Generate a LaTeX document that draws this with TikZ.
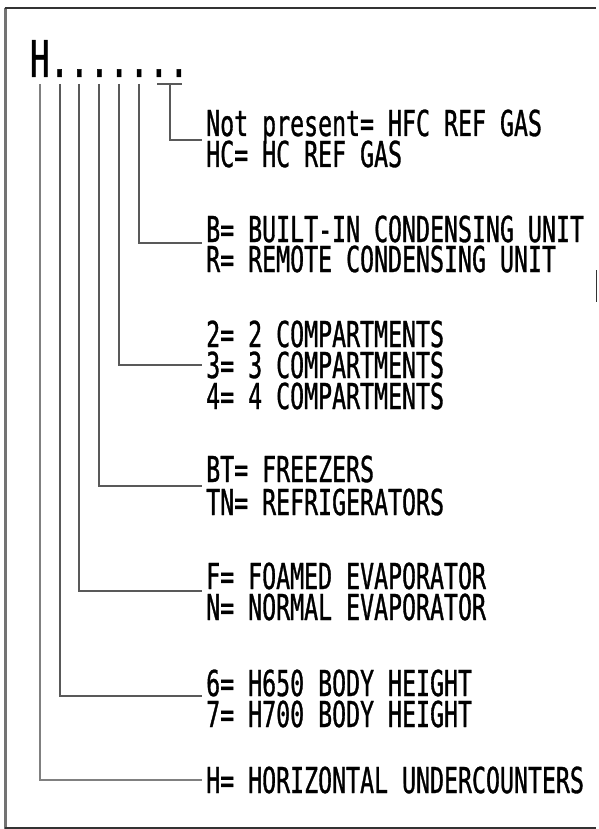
\documentclass[tikz,border=0pt]{standalone}
\usepackage{fontspec}
\newfontfamily\cadfont[FakeStretch=0.651,FakeBold=0.9]{DejaVu Sans Mono}
\begin{document}
\begin{tikzpicture}[x=1pt,y=-1pt,
  conn/.style={draw=black!65,line width=1.3pt},
  framel/.style={draw=black!80,line width=1.4pt},
  lbl/.style={anchor=base west,inner sep=0pt,font=\cadfont\fontsize{35.7}{31}\selectfont},
  code/.style={anchor=base west,inner sep=0pt,font=\cadfont\fontsize{50.7}{50}\selectfont}]
\useasboundingbox (0,0) rectangle (598,829);
% frame
\draw[framel,draw=black!55,line width=2.2pt] (5.5,8) -- (5.5,829);
\draw[framel] (4.5,8) -- (596,8);
\draw[framel] (4.5,828) -- (596,828);
\draw[framel,line width=1.6pt] (596.5,270) -- (596.5,302);
% code
\node[code] (code) at (29.6,77) {H.......};
\coordinate (tH) at (40,84);
\coordinate (t1) at (60,84);
\coordinate (t2) at (79,84);
\coordinate (t3) at (99,84);
\coordinate (t4) at (119,84);
\coordinate (t5) at (139,84);
\coordinate (t6) at (170,84);
\coordinate (b6l) at (157,84);
\coordinate (b6r) at (182,84);
% labels
\node[lbl] (l1a) at (206,136) {Not present= HFC REF GAS};
\node[lbl] (l1b) at (206,167) {HC= HC REF GAS};
\node[lbl] (l2a) at (206,242) {B= BUILT-IN CONDENSING UNIT};
\node[lbl] (l2b) at (206,272) {R= REMOTE CONDENSING UNIT};
\node[lbl] (l3a) at (206,347) {2= 2 COMPARTMENTS};
\node[lbl] (l3b) at (206,378) {3= 3 COMPARTMENTS};
\node[lbl] (l3c) at (206,409) {4= 4 COMPARTMENTS};
\node[lbl] (l4a) at (206,482) {BT= FREEZERS};
\node[lbl] (l4b) at (206,515) {TN= REFRIGERATORS};
\node[lbl] (l5a) at (206,589) {F= FOAMED EVAPORATOR};
\node[lbl] (l5b) at (206,620) {N= NORMAL EVAPORATOR};
\node[lbl] (l6a) at (206,696) {6= H650 BODY HEIGHT};
\node[lbl] (l6b) at (206,727) {7= H700 BODY HEIGHT};
\node[lbl] (l7a) at (206,793) {H= HORIZONTAL UNDERCOUNTERS};
% attachment points
\coordinate (g1) at (202,140);
\coordinate (g2) at (202,243);
\coordinate (g3) at (202,365);
\coordinate (g4) at (202,486);
\coordinate (g5) at (202,591);
\coordinate (g6) at (202,696);
\coordinate (g7) at (202,780);
% connectors
\draw[conn] (b6l) -- (b6r);
\draw[conn] (t6) |- (g1);
\draw[conn] (t5) |- (g2);
\draw[conn] (t4) |- (g3);
\draw[conn] (t3) |- (g4);
\draw[conn] (t2) |- (g5);
\draw[conn] (t1) |- (g6);
\draw[conn,draw=black!50] (tH) |- (g7);
\end{tikzpicture}
\end{document}
